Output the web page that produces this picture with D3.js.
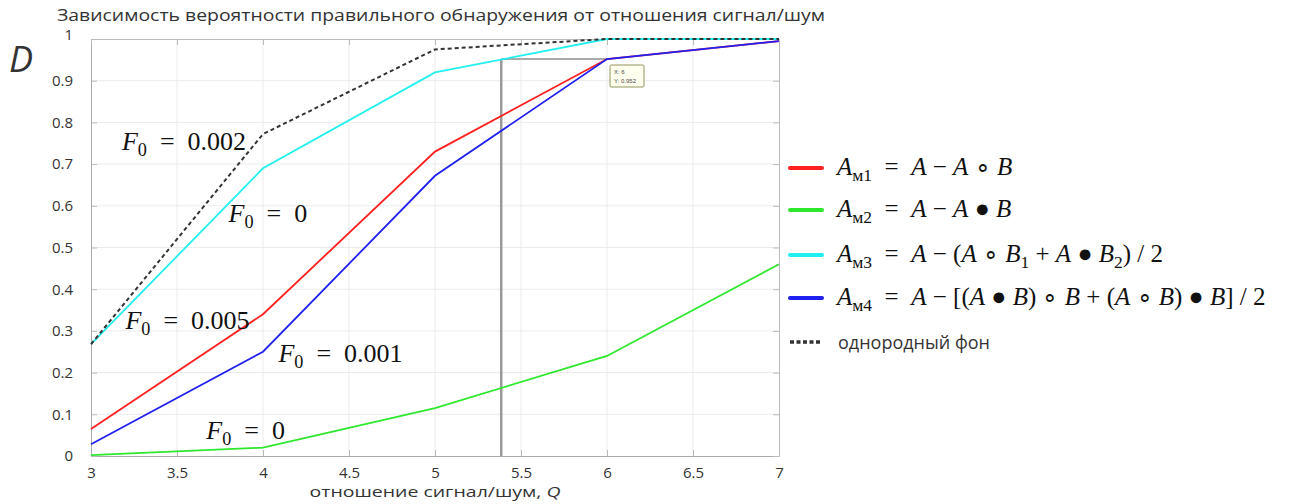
<!DOCTYPE html>
<html>
<head>
<meta charset="utf-8">
<script src="https://cdn.jsdelivr.net/npm/d3@7"></script>
<style>
  body { margin: 0; background: #fff; }
  svg { display: block; }
  .tick text { font-family: "Open Sans", sans-serif; fill: #333; }
</style>
</head>
<body>
<div id="graf"></div>
<script>
// Datos
const snr = [3, 4, 5, 6, 7]
const am1 = [0.065, 0.34, 0.73, 0.952, 0.995]
const am2 = [0.002, 0.02, 0.115, 0.24, 0.46]
const am3 = [0.268, 0.69, 0.92, 1.0, 1.0]
const am4 = [0.028, 0.25, 0.672, 0.952, 0.995]
const fon = [0.268, 0.772, 0.975, 1.0, 1.0]
const xTicks = [3, 3.5, 4, 4.5, 5, 5.5, 6, 6.5, 7]
const yTicks = [0, 0.1, 0.2, 0.3, 0.4, 0.5, 0.6, 0.7, 0.8, 0.9, 1]
const cursorX = 5.385
const cursorPoint = { x: 6, y: 0.952 }

const series = [
  { name: 'Aм1', values: am1, color: '#ff2020', dash: null },
  { name: 'Aм2', values: am2, color: '#2ee82e', dash: null },
  { name: 'Aм3', values: am3, color: '#22f0f0', dash: null },
  { name: 'Aм4', values: am4, color: '#2020f0', dash: null },
  { name: 'fon', values: fon, color: '#333', dash: '4,3' }
]

const ancho_total = 1296, alto_total = 504
const margen = { superior: 39, izquierdo: 91, derecho: 517, inferior: 48 }
const ancho = ancho_total - margen.izquierdo - margen.derecho
const alto = alto_total - margen.superior - margen.inferior

const svg = d3.select('#graf').append('svg')
  .attr('width', ancho_total).attr('height', alto_total)

const g = svg.append('g')
  .attr('transform', `translate(${margen.izquierdo}, ${margen.superior})`)

const x = d3.scaleLinear().domain([3, 7]).range([0, ancho])
const y = d3.scaleLinear().domain([0, 1]).range([alto, 0])

// rejilla
g.selectAll('line.gx').data(xTicks.slice(1, -1)).enter().append('line')
  .attr('x1', d => x(d)).attr('x2', d => x(d)).attr('y1', 0).attr('y2', alto)
  .attr('stroke', '#ebebeb')
g.selectAll('line.gy').data(yTicks.slice(1, -1)).enter().append('line')
  .attr('y1', d => y(d)).attr('y2', d => y(d)).attr('x1', 0).attr('x2', ancho)
  .attr('stroke', '#ebebeb')

// ejes
const xAxis = g.append('g').attr('transform', `translate(0, ${alto})`)
  .call(d3.axisBottom(x).tickValues(xTicks).tickSizeInner(-6).tickSizeOuter(0).tickPadding(11).tickFormat(d3.format('')))
xAxis.select('.domain').attr('stroke', '#aaa')
xAxis.selectAll('.tick line').attr('stroke', '#bbb')
xAxis.selectAll('text').style('font-size', '15px')

const yAxis = g.append('g')
  .call(d3.axisLeft(y).tickValues(yTicks).tickSizeInner(-6).tickSizeOuter(0).tickPadding(18).tickFormat(d3.format('')))
yAxis.select('.domain').attr('stroke', '#aaa')
yAxis.selectAll('.tick line').attr('stroke', '#bbb')
yAxis.selectAll('text').style('font-size', '15px')
yAxis.selectAll('.tick').filter(d => d === 1).select('text').attr('dy', '0em')

const yRight = g.append('g').attr('transform', `translate(${ancho}, 0)`)
  .call(d3.axisRight(y).tickValues(yTicks).tickSizeInner(-6).tickSizeOuter(0).tickFormat(''))
yRight.select('.domain').attr('stroke', '#bbb')
yRight.selectAll('.tick line').attr('stroke', '#bbb')
const xTop = g.append('g')
  .call(d3.axisTop(x).tickValues(xTicks).tickSizeInner(-6).tickSizeOuter(0).tickFormat(''))
xTop.select('.domain').attr('stroke', '#bbb')
xTop.selectAll('.tick line').attr('stroke', '#bbb')

// cursor de datos
g.append('line')
  .attr('x1', x(cursorX)).attr('x2', x(cursorX)).attr('y1', y(cursorPoint.y)).attr('y2', alto)
  .attr('stroke', '#999').attr('stroke-width', 2.5)
g.append('line')
  .attr('x1', x(cursorX)).attr('x2', x(cursorPoint.x)).attr('y1', y(cursorPoint.y)).attr('y2', y(cursorPoint.y))
  .attr('stroke', '#aaa').attr('stroke-width', 2)

// lineas
const linea = d3.line().x((d, i) => x(snr[i])).y(d => y(d))
series.forEach(s => {
  g.append('path').datum(s.values)
    .attr('d', linea)
    .attr('fill', 'none')
    .attr('stroke', s.color)
    .attr('stroke-width', s.dash ? 2 : 1.8)
    .attr('stroke-dasharray', s.dash)
})

// etiqueta del cursor
const tip = g.append('g').attr('transform', `translate(${x(cursorPoint.x) + 3}, ${y(cursorPoint.y) + 6})`)
tip.append('rect').attr('width', 34).attr('height', 22).attr('rx', 2)
  .attr('fill', '#fffff0').attr('stroke', '#b8b890').attr('stroke-width', 1.5)
tip.append('text').attr('x', 4).attr('y', 9).style('font', '6px sans-serif').attr('fill', '#444').text('X: ' + cursorPoint.x)
tip.append('text').attr('x', 4).attr('y', 18).style('font', '6px sans-serif').attr('fill', '#444').text('Y: ' + cursorPoint.y)

// texto con formulas
function rico(sel, parts, size) {
  const t = sel.append('text').style('font-family', '"Liberation Serif", serif').style('font-size', size + 'px').attr('fill', '#111')
  parts.forEach(p => {
    const ts = t.append('tspan').text(p.t)
    if (p.i) ts.style('font-style', 'italic')
    if (p.sub) ts.attr('baseline-shift', '-35%').style('font-size', (size * 0.7) + 'px')
  })
  return t
}

const anotaciones = [
  { x: 3.18, y: 0.735, v: '0.002' },
  { x: 3.8, y: 0.56, v: '0' },
  { x: 3.2, y: 0.305, v: '0.005' },
  { x: 4.09, y: 0.225, v: '0.001' },
  { x: 3.67, y: 0.04, v: '0' }
]
anotaciones.forEach(a => {
  rico(g, [{ t: 'F', i: true }, { t: '0', sub: true }, { t: '\u2002=\u2002' + a.v }], 26)
    .attr('x', x(a.x)).attr('y', y(a.y))
})

// leyenda
const sp = '\u2002'
const leyenda = [
  [{ t: 'A', i: true }, { t: 'м1', sub: true }, { t: sp + '=' + sp }, { t: 'A', i: true }, { t: ' − ' }, { t: 'A', i: true }, { t: ' ∘ ' }, { t: 'B', i: true }],
  [{ t: 'A', i: true }, { t: 'м2', sub: true }, { t: sp + '=' + sp }, { t: 'A', i: true }, { t: ' − ' }, { t: 'A', i: true }, { t: ' ● ' }, { t: 'B', i: true }],
  [{ t: 'A', i: true }, { t: 'м3', sub: true }, { t: sp + '=' + sp }, { t: 'A', i: true }, { t: ' − (' }, { t: 'A', i: true }, { t: ' ∘ ' }, { t: 'B', i: true }, { t: '1', sub: true }, { t: ' + ' }, { t: 'A', i: true }, { t: ' ● ' }, { t: 'B', i: true }, { t: '2', sub: true }, { t: ') / 2' }],
  [{ t: 'A', i: true }, { t: 'м4', sub: true }, { t: sp + '=' + sp }, { t: 'A', i: true }, { t: ' − [(' }, { t: 'A', i: true }, { t: ' ● ' }, { t: 'B', i: true }, { t: ') ∘ ' }, { t: 'B', i: true }, { t: ' + (' }, { t: 'A', i: true }, { t: ' ∘ ' }, { t: 'B', i: true }, { t: ') ● ' }, { t: 'B', i: true }, { t: '] / 2' }]
]
const leyY = [168, 210, 255, 298, 342]
const leg = svg.append('g')
series.forEach((s, i) => {
  leg.append('line').attr('x1', 790).attr('x2', 822).attr('y1', leyY[i]).attr('y2', leyY[i])
    .attr('stroke', s.color).attr('stroke-width', s.dash ? 3.5 : 4)
    .attr('stroke-linecap', s.dash ? 'butt' : 'round')
    .attr('stroke-dasharray', s.dash ? '4,2.5' : null)
  if (i < 4) {
    rico(leg, leyenda[i], 25).attr('x', 837).attr('y', leyY[i] + 7)
  } else {
    leg.append('text').attr('x', 838).attr('y', leyY[i] + 7)
      .style('font-family', '"Open Sans", sans-serif').style('font-size', '18px').attr('fill', '#333')
      .text('однородный фон')
  }
})

// titulos
svg.append('text').attr('x', 441).attr('y', 21).attr('text-anchor', 'middle')
  .style('font-family', '"Open Sans", sans-serif').style('font-size', '17px').attr('fill', '#333')
  .attr('textLength', 768).attr('lengthAdjust', 'spacingAndGlyphs')
  .text('Зависимость вероятности правильного обнаружения от отношения сигнал/шум')
svg.append('text').attr('x', 9).attr('y', 72)
  .style('font-family', '"Open Sans", sans-serif').style('font-size', '36px').style('font-style', 'italic').attr('fill', '#333')
  .text('D')
const xl = svg.append('text').attr('x', 435).attr('y', 497).attr('text-anchor', 'middle')
  .style('font-family', '"Open Sans", sans-serif').style('font-size', '15px').attr('fill', '#333')
  .attr('textLength', 251).attr('lengthAdjust', 'spacingAndGlyphs')
xl.append('tspan').text('отношение сигнал/шум, ')
xl.append('tspan').style('font-style', 'italic').text('Q')
</script>
</body>
</html>
